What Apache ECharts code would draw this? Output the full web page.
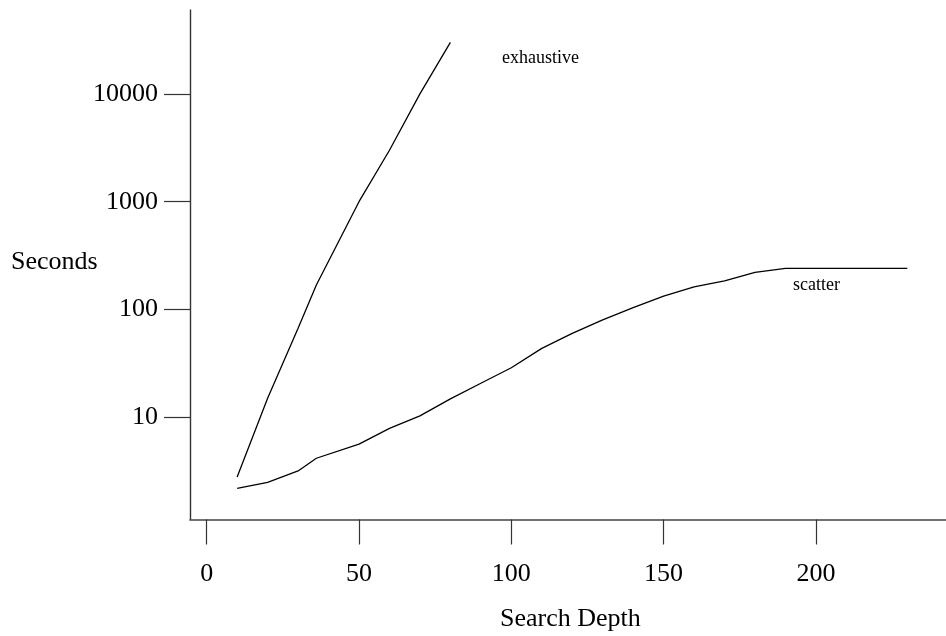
<!DOCTYPE html>
<html>
<head>
<meta charset="utf-8">
<script src="https://cdn.jsdelivr.net/npm/echarts@6/dist/echarts.min.js"></script>
<style>html,body{margin:0;padding:0;background:#fff}#c{width:946px;height:636px}</style>
</head>
<body>
<div id="c"></div>
<script>
var exhaustiveDepth = [10, 20, 30, 36, 50, 60, 70, 80];
var exhaustiveSecs  = [2.8, 15, 67, 169, 1000, 3000, 10000, 30000];
var scatterDepth = [10, 20, 30, 36, 50, 60, 70, 80, 90, 100, 110, 120, 130, 140, 150, 160, 170, 180, 190, 230];
var scatterSecs  = [2.19, 2.49, 3.18, 4.17, 5.63, 7.9, 10.3, 14.8, 20.7, 28.8, 43.6, 60, 80, 104, 133, 162, 184, 221, 241, 241];
var xTicks = [0, 50, 100, 150, 200];
var yTicks = [10, 100, 1000, 10000];

function zip(a, b) { return a.map(function (v, i) { return [v, b[i]]; }); }

var FONT = 'Liberation Serif';
var chart = echarts.init(document.getElementById('c'), null, { renderer: 'canvas' });
chart.setOption({
  animation: false,
  backgroundColor: '#ffffff',
  grid: { left: 190, right: 0, top: 10, bottom: 116.5, containLabel: false, outerBoundsMode: 'none' },
  xAxis: {
    type: 'value', min: -5.48, max: 242.7,
    splitLine: { show: false },
    axisLine: { show: true, onZero: false, lineStyle: { color: '#444', width: 1.6 } },
    axisTick: { show: true, length: 25, customValues: xTicks, lineStyle: { color: '#333', width: 1.2 } },
    axisLabel: { customValues: xTicks, margin: 42, color: '#000', fontFamily: FONT, fontSize: 26,
      formatter: function (v) { return String(Math.round(v)); } }
  },
  yAxis: {
    type: 'log', logBase: 10, min: 1.127, max: 60000,
    splitLine: { show: false },
    axisLine: { show: true, onZero: false, lineStyle: { color: '#333', width: 1.4 } },
    axisTick: { show: true, length: 26, customValues: yTicks, lineStyle: { color: '#333', width: 1.2 } },
    axisLabel: { customValues: yTicks, margin: 32, color: '#000', fontFamily: FONT, fontSize: 26,
      formatter: function (v) { return String(Math.round(v)); } }
  },
  series: [
    { name: 'exhaustive', type: 'line', data: zip(exhaustiveDepth, exhaustiveSecs), showSymbol: false, symbol: 'none',
      lineStyle: { color: '#000', width: 1.3 } },
    { name: 'scatter', type: 'line', data: zip(scatterDepth, scatterSecs), showSymbol: false, symbol: 'none',
      lineStyle: { color: '#000', width: 1.3 } }
  ],
  graphic: [
    { type: 'text', left: 11, top: 249, style: { text: 'Seconds', fill: '#000', font: '26px "Liberation Serif"' } },
    { type: 'text', left: 500, top: 606, style: { text: 'Search Depth', fill: '#000', font: '26px "Liberation Serif"' } },
    { type: 'text', left: 502, top: 49, style: { text: 'exhaustive', fill: '#000', font: '18px "Liberation Serif"' } },
    { type: 'text', left: 793, top: 276, style: { text: 'scatter', fill: '#000', font: '18px "Liberation Serif"' } }
  ]
});
</script>
</body>
</html>
